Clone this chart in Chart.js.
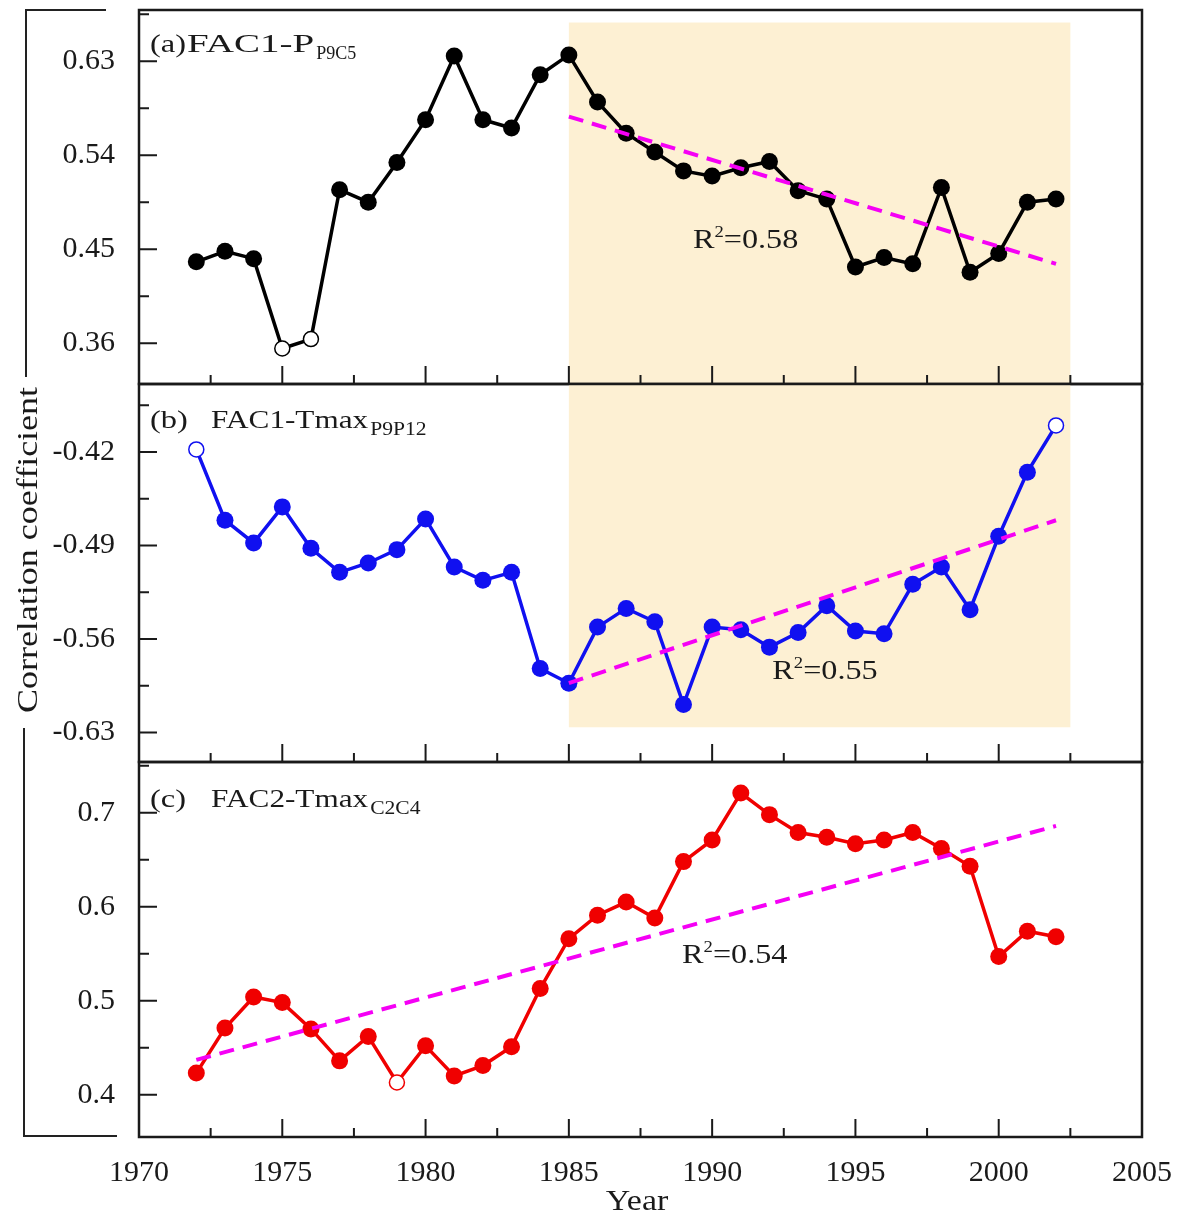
<!DOCTYPE html>
<html>
<head>
<meta charset="utf-8">
<script src="https://cdn.jsdelivr.net/npm/chart.js@4.4.0/dist/chart.umd.min.js"></script>
<style>
    body { margin: 0; background: #fff; }
    #wrap { position: relative; width: 1178px; height: 1215px; overflow: hidden; background: #fff; }
    #wrap canvas { position: absolute; left: 0; }
    .bracket { position: absolute; border-left: 2.5px solid #222; }
    #brTop { left: 25px; top: 9px; width: 79px; height: 366px; border-top: 2.5px solid #222; }
    #brBottom { left: 23px; top: 728px; width: 92px; height: 407px; border-bottom: 2.5px solid #222; }
</style>
</head>
<body>
<div id="wrap">
    <canvas id="chartA" width="1178" height="400" style="top:0px"></canvas>
    <canvas id="chartB" width="1178" height="404" style="top:374px"></canvas>
    <canvas id="chartC" width="1178" height="463" style="top:752px"></canvas>
    <div class="bracket" id="brTop"></div>
    <div class="bracket" id="brBottom"></div>
</div>

<script>
    // years of the moving correlation
    var years = [1972, 1973, 1974, 1975, 1976, 1977, 1978, 1979, 1980, 1981, 1982, 1983, 1984, 1985, 1986, 1987,
        1988, 1989, 1990, 1991, 1992, 1993, 1994, 1995, 1996, 1997, 1998, 1999, 2000, 2001, 2002];

    // (a) FAC1-P P9C5
    var corrA = [0.438, 0.448, 0.441, 0.355, 0.364, 0.507, 0.495, 0.533, 0.574, 0.635, 0.574, 0.566, 0.617, 0.636,
        0.591, 0.561, 0.543, 0.525, 0.520, 0.528, 0.534, 0.506, 0.498, 0.433, 0.442, 0.436, 0.509, 0.428, 0.446, 0.495, 0.498];
    // (b) FAC1-Tmax P9P12
    var corrB = [-0.418, -0.471, -0.488, -0.461, -0.492, -0.510, -0.503, -0.493, -0.470, -0.506, -0.516, -0.510, -0.582, -0.593,
        -0.551, -0.537, -0.547, -0.609, -0.551, -0.553, -0.566, -0.555, -0.535, -0.554, -0.556, -0.519, -0.506, -0.538, -0.483, -0.435, -0.400];
    // (c) FAC2-Tmax C2C4
    var corrC = [0.423, 0.471, 0.504, 0.498, 0.470, 0.436, 0.462, 0.413, 0.452, 0.420, 0.431, 0.451, 0.513, 0.566,
        0.591, 0.605, 0.588, 0.648, 0.671, 0.721, 0.698, 0.679, 0.674, 0.667, 0.671, 0.679, 0.662, 0.643, 0.547, 0.574, 0.568];

    // years drawn with open markers
    var openA = [1975, 1976];
    var openB = [1972, 2002];
    var openC = [1979];

    // linear trends (end points)
    var trendYearsA = [1985, 2002];
    var trendA = [0.577, 0.436];
    var trendYearsB = [1985, 2002];
    var trendB = [-0.593, -0.471];
    var trendYearsC = [1972, 2002];
    var trendC = [0.437, 0.686];
    var r2 = ['0.58', '0.55', '0.54'];

    // shaded period
    var shadeYears = [1985, 2002.5];

    // axes
    var xTicks = [1970, 1975, 1980, 1985, 1990, 1995, 2000, 2005];
    var xMinor = [1972.5, 1977.5, 1982.5, 1987.5, 1992.5, 1997.5, 2002.5];
    var yTicksA = [0.36, 0.45, 0.54, 0.63];
    var yMinorA = [0.405, 0.495, 0.585, 0.675];
    var yTicksB = [-0.63, -0.56, -0.49, -0.42];
    var yMinorB = [-0.595, -0.525, -0.455, -0.385];
    var yTicksC = [0.4, 0.5, 0.6, 0.7];
    var yMinorC = [0.45, 0.55, 0.65, 0.75];

    var serif = '"Liberation Serif", "Times New Roman", serif';
    var ink = '#1a1a1a';

    function stretchText(ctx, str, x, y, size, sx) {
        ctx.save();
        ctx.font = size + 'px ' + serif;
        ctx.translate(x, y);
        ctx.scale(sx, 1);
        ctx.fillText(str, 0, 0);
        var w = ctx.measureText(str).width * sx;
        ctx.restore();
        return w;
    }

    var panelPlugin = {
        id: 'panel',
        beforeDatasetsDraw: function (chart, args, o) {
            var ctx = chart.ctx, a = chart.chartArea, x = chart.scales.x, y = chart.scales.y;
            if (o.shade) {
                var x0 = x.getPixelForValue(shadeYears[0]);
                var x1 = x.getPixelForValue(shadeYears[1]);
                var y0 = o.shade.top == null ? a.top : y.getPixelForValue(o.shade.top);
                var y1 = o.shade.bottom == null ? a.bottom : y.getPixelForValue(o.shade.bottom);
                ctx.save();
                ctx.fillStyle = '#fdf0d3';
                ctx.fillRect(x0, y0, x1 - x0, y1 - y0);
                ctx.restore();
            }
        },
        afterDatasetsDraw: function (chart, args, o) {
            var ctx = chart.ctx, a = chart.chartArea, x = chart.scales.x, y = chart.scales.y;
            ctx.save();
            ctx.strokeStyle = ink;
            ctx.lineWidth = 2.5;
            ctx.strokeRect(a.left, a.top, a.right - a.left, a.bottom - a.top);

            // inward ticks
            ctx.lineWidth = 2;
            ctx.beginPath();
            o.yMajor.forEach(function (v) {
                var p = y.getPixelForValue(v);
                ctx.moveTo(a.left, p); ctx.lineTo(a.left + 18, p);
            });
            o.yMinor.forEach(function (v) {
                var p = y.getPixelForValue(v);
                if (p > a.top + 2 && p < a.bottom - 2) { ctx.moveTo(a.left, p); ctx.lineTo(a.left + 10, p); }
            });
            xTicks.forEach(function (v) {
                var p = x.getPixelForValue(v);
                ctx.moveTo(p, a.bottom); ctx.lineTo(p, a.bottom - 18);
            });
            xMinor.forEach(function (v) {
                var p = x.getPixelForValue(v);
                ctx.moveTo(p, a.bottom); ctx.lineTo(p, a.bottom - 9);
            });
            ctx.stroke();

            // panel label with subscript
            ctx.fillStyle = ink;
            ctx.textBaseline = 'alphabetic';
            ctx.textAlign = 'left';
            var base = a.top + o.labelDy;
            stretchText(ctx, o.tag, a.left + 11, base, 26, 1.25);
            var w = stretchText(ctx, o.name, a.left + o.nameDx, base, 26, o.nameSx);
            stretchText(ctx, o.sub, a.left + o.nameDx + w + 2, base + 7, 18, o.subSx);

            // R^2 note
            var rx = x.getPixelForValue(o.r2At[0]), ry = y.getPixelForValue(o.r2At[1]);
            var wr = stretchText(ctx, 'R', rx, ry, 28, 1.15);
            var w2 = stretchText(ctx, '2', rx + wr, ry - 11, 17, 1.1);
            stretchText(ctx, '=' + o.r2, rx + wr + w2, ry, 28, 1.15);

            if (o.yTitle) {
                ctx.save();
                ctx.translate(37, 176);
                ctx.rotate(-Math.PI / 2);
                ctx.scale(1.2, 1);
                ctx.textAlign = 'center';
                ctx.font = '30px ' + serif;
                ctx.fillText('Correlation coefficient', 0, 0);
                ctx.restore();
            }
            if (o.xTitle) {
                ctx.save();
                ctx.translate(637, chart.height - 5);
                ctx.scale(1.13, 1);
                ctx.textAlign = 'center';
                ctx.font = '30px ' + serif;
                ctx.fillText('Year', 0, 0);
                ctx.restore();
            }
            ctx.restore();
        }
    };

    function makePanel(id, values, open, color, tYears, tVals, yMin, yMax, yTicks, digits, showX, panel) {
        var pts = years.map(function (yr, i) { return { x: yr, y: values[i] }; });
        var isOpen = years.map(function (yr) { return open.indexOf(yr) >= 0; });
        var trend = tYears.map(function (yr, i) { return { x: yr, y: tVals[i] }; });
        var tickFont = { family: serif, size: 30 };

        return new Chart(document.getElementById(id), {
            type: 'line',
            data: {
                datasets: [{
                    data: trend,
                    borderColor: '#f500f5',
                    borderWidth: 4,
                    borderDash: [15, 9],
                    pointRadius: 0,
                    order: 0
                }, {
                    data: pts,
                    borderColor: color,
                    borderWidth: 3.5,
                    pointRadius: isOpen.map(function (o) { return o ? 7.5 : 8.5; }),
                    pointBackgroundColor: isOpen.map(function (o) { return o ? '#ffffff' : color; }),
                    pointBorderColor: color,
                    pointBorderWidth: isOpen.map(function (o) { return o ? 1.5 : 0; }),
                    tension: 0,
                    order: 1
                }]
            },
            options: {
                responsive: false,
                animation: false,
                devicePixelRatio: 1,
                layout: { padding: { left: 0, right: 36, top: 10, bottom: showX ? 0 : 16 }, autoPadding: false },
                plugins: { legend: { display: false }, tooltip: { enabled: false }, panel: panel },
                scales: {
                    x: {
                        type: 'linear',
                        min: 1970,
                        max: 2005,
                        display: showX,
                        afterBuildTicks: function (s) { s.ticks = xTicks.map(function (v) { return { value: v }; }); },
                        afterFit: function (s) {
                            if (showX) s.height = 78;
                            s.paddingLeft = 0; s.paddingRight = 0;
                        },
                        ticks: {
                            callback: function (v) { return String(v); },
                            font: tickFont, color: ink, padding: 18, maxRotation: 0, autoSkip: false
                        },
                        grid: { display: false, drawTicks: false },
                        border: { display: false }
                    },
                    y: {
                        min: yMin,
                        max: yMax,
                        afterBuildTicks: function (s) { s.ticks = yTicks.map(function (v) { return { value: v }; }); },
                        afterFit: function (s) {
                            s.width = 139;
                            s.paddingTop = 0; s.paddingBottom = 0;
                        },
                        ticks: {
                            callback: function (v) { return Number(v).toFixed(digits); },
                            font: tickFont, color: ink, padding: 24
                        },
                        grid: { display: false, drawTicks: false },
                        border: { display: false }
                    }
                }
            },
            plugins: [panelPlugin]
        });
    }

    makePanel('chartA', corrA, openA, '#000000', trendYearsA, trendA, 0.321, 0.679, yTicksA, 2, false, {
        shade: { top: 0.667, bottom: null },
        yMajor: yTicksA, yMinor: yMinorA,
        tag: '(a)', name: 'FAC1-P', sub: 'P9C5', nameDx: 48, nameSx: 1.5, subSx: 1.0, labelDy: 42,
        r2: r2[0], r2At: [1989.33, 0.451]
    });

    makePanel('chartB', corrB, openB, '#1010f0', trendYearsB, trendB, -0.652, -0.369, yTicksB, 2, false, {
        shade: { top: null, bottom: -0.626 },
        yMajor: yTicksB, yMinor: yMinorB,
        tag: '(b)', name: 'FAC1-Tmax', sub: 'P9P12', nameDx: 72, nameSx: 1.2, subSx: 1.2, labelDy: 44,
        r2: r2[1], r2At: [1992.1, -0.590],
        yTitle: true
    });

    makePanel('chartC', corrC, openC, '#f00000', trendYearsC, trendC, 0.355, 0.754, yTicksC, 1, true, {
        shade: null,
        yMajor: yTicksC, yMinor: yMinorC,
        tag: '(c)', name: 'FAC2-Tmax', sub: 'C2C4', nameDx: 72, nameSx: 1.2, subSx: 1.2, labelDy: 45,
        r2: r2[2], r2At: [1988.95, 0.540],
        xTitle: true
    });
</script>
</body>
</html>
